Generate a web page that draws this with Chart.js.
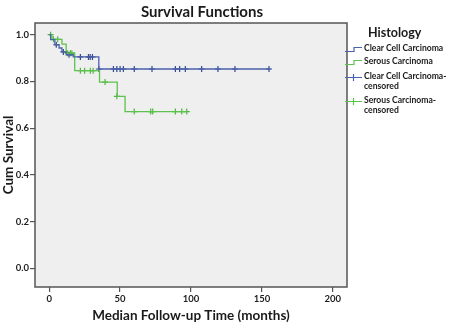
<!DOCTYPE html>
<html>
<head>
<meta charset="utf-8">
<script src="https://cdn.jsdelivr.net/npm/chart.js@4.4.1/dist/chart.umd.min.js"></script>
<style>
  body { margin: 0; background: #fff; }
  #wrap { position: relative; width: 450px; height: 324px; font-family: Lato, "Noto Sans", sans-serif; font-weight: bold; color: #1a1a1a; }
  #ttl { position: absolute; left: 0; width: 404px; top: 2px; text-align: center; font-size: 15px; }
  #leg { position: absolute; left: 345px; top: 26px; width: 105px; height: 100px; font-size: 8.6px; line-height: 9.5px; }
  #leg .hd { position: absolute; left: 23px; top: 0; font-size: 12.5px; line-height: 14px; }
  #leg .row { position: absolute; left: 0; padding-left: 19px; white-space: nowrap; }
  #leg svg { position: absolute; left: 0; top: 0; }
</style>
</head>
<body>
<div id="wrap">
  <canvas id="km" width="450" height="324"></canvas>
  <div id="ttl">Survival Functions</div>
  <div id="leg"></div>
</div>
<script>
// tiempos en meses, survie cumulée
const ccTime = [0, 1, 4, 7, 9, 12, 17, 35, 156];
const ccSurv = [1.0, 0.979, 0.957, 0.943, 0.926, 0.914, 0.905, 0.853, 0.853];
const srTime = [0, 2, 9, 12, 18, 35.5, 48, 53.5, 97];
const srSurv = [1.0, 0.98, 0.96, 0.921, 0.846, 0.797, 0.736, 0.671, 0.671];

// censored cases
const ccCensTime = [5, 10, 14, 22, 27.7, 28.9, 30.5, 35, 45.3, 47.7, 50, 52.3, 60, 72.5, 89, 92, 96, 107.5, 119, 131, 155];
const ccCensSurv = [0.957, 0.926, 0.914, 0.905, 0.905, 0.905, 0.905, 0.853, 0.853, 0.853, 0.853, 0.853, 0.853, 0.853, 0.853, 0.853, 0.853, 0.853, 0.853, 0.853, 0.853];
const srCensTime = [1, 3, 6, 13, 15, 16, 22, 25, 29, 31, 39.4, 47.7, 60, 71.6, 73, 89, 93.5, 97];
const srCensSurv = [1.0, 0.98, 0.98, 0.921, 0.921, 0.921, 0.846, 0.846, 0.846, 0.846, 0.797, 0.736, 0.671, 0.671, 0.671, 0.671, 0.671, 0.671];

const xTicks = [0, 50, 100, 150, 200];
const yTicks = [0, 0.2, 0.4, 0.6, 0.8, 1.0];
const seriesNames = ["Clear Cell Carcinoma", "Serous Carcinoma", "Clear Cell Carcinoma-\ncensored", "Serous Carcinoma-\ncensored"];

const blue = "#4a62ab";
const green = "#5ec24e";
const blueDark = "#34498f";
const greenMark = "#4fb73d";

function pts(xs, ys) {
    return xs.map(function(x, i) { return { x: x, y: ys[i] }; });
}

// fond gris + cadre du graphique
const plotFrame = {
    id: "plotFrame",
    beforeDraw(chart) {
        const a = chart.chartArea, ctx = chart.ctx;
        ctx.save();
        ctx.fillStyle = "#efefef";
        ctx.fillRect(a.left, a.top, a.right - a.left, a.bottom - a.top);
        ctx.restore();
    },
    afterDraw(chart) {
        const a = chart.ctx, r = chart.chartArea;
        a.save();
        a.strokeStyle = "#555";
        a.lineWidth = 1.5;
        a.strokeRect(r.left, r.top, r.right - r.left, r.bottom - r.top);
        a.restore();
    }
};

const tickFont = { family: "Lato, 'Noto Sans', sans-serif", size: 9.5, weight: "bold" };
const titleFont = { family: "Lato, 'Noto Sans', sans-serif", size: 13.5, weight: "bold" };

const chart = new Chart(document.getElementById("km").getContext("2d"), {
    type: "line",
    data: {
        datasets: [
            { label: seriesNames[0], data: pts(ccTime, ccSurv), stepped: "before", borderColor: blue, borderWidth: 1.3, pointRadius: 0, fill: false },
            { label: seriesNames[1], data: pts(srTime, srSurv), stepped: "before", borderColor: green, borderWidth: 1.3, pointRadius: 0, fill: false },
            { label: seriesNames[2], data: pts(ccCensTime, ccCensSurv), showLine: false, pointStyle: "cross", pointRadius: 3, borderColor: blueDark, pointBorderWidth: 1.2 },
            { label: seriesNames[3], data: pts(srCensTime, srCensSurv), showLine: false, pointStyle: "cross", pointRadius: 3, borderColor: greenMark, pointBorderWidth: 1.2 }
        ]
    },
    options: {
        responsive: false,
        animation: false,
        layout: { padding: { top: 23, right: 103, left: 1, bottom: 0 } },
        plugins: { legend: { display: false }, title: { display: false }, tooltip: { enabled: false } },
        scales: {
            x: {
                type: "linear", min: -10, max: 210,
                afterBuildTicks: function(s) { s.ticks = xTicks.map(function(v) { return { value: v }; }); },
                afterFit: function(s) { s.height = 37; },
                grid: { drawOnChartArea: false, drawTicks: true, tickLength: 5, color: "#555", lineWidth: 1.2 },
                border: { display: false },
                ticks: { font: tickFont, color: "#222", padding: 1, maxRotation: 0 },
                title: { display: true, text: "Median Follow-up Time (months)", font: titleFont, color: "#1a1a1a", padding: { top: 0, bottom: 0 } }
            },
            y: {
                type: "linear", min: -0.08, max: 1.05,
                afterBuildTicks: function(s) { s.ticks = yTicks.map(function(v) { return { value: v }; }); },
                afterFit: function(s) { s.width = 34; },
                grid: { drawOnChartArea: false, drawTicks: true, tickLength: 5, color: "#555", lineWidth: 1.2 },
                border: { display: false },
                ticks: { font: tickFont, color: "#222", padding: 1, callback: function(v) { return v.toFixed(1); } },
                title: { display: true, text: "Cum Survival", font: titleFont, color: "#1a1a1a", padding: 0 }
            }
        }
    },
    plugins: [plotFrame]
});

// légende à droite, comme SPSS
function legendIcon(kind, col) {
    if (kind === "step") {
        return '<svg width="18" height="10"><path d="M0 7.5 H9 V3.5 H17" fill="none" stroke="' + col + '" stroke-width="1.2"/></svg>';
    }
    return '<svg width="18" height="10"><path d="M0 5.5 H17 M8.5 2 V9" fill="none" stroke="' + col + '" stroke-width="1.2"/></svg>';
}
let html = '<div class="hd">Histology</div>';
const kinds = ["step", "step", "cross", "cross"];
const cols = [blue, green, blue, green];
const rowTops = [18, 31, 46, 70];
seriesNames.forEach(function(n, i) {
    html += '<div class="row" style="top:' + rowTops[i] + 'px">' + legendIcon(kinds[i], cols[i]) + n.replace("\n", "<br>") + '</div>';
});
document.getElementById("leg").innerHTML = html;
</script>
</body>
</html>
